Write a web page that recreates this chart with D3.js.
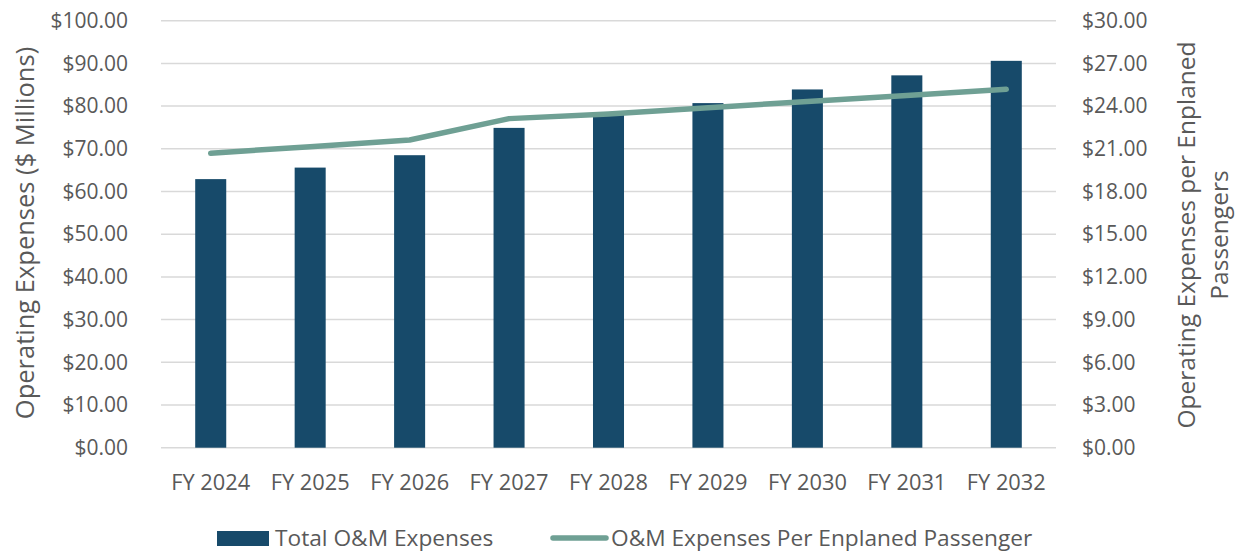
<!DOCTYPE html>
<html>
<head>
<meta charset="utf-8">
<script src="https://cdn.jsdelivr.net/npm/d3@7"></script>
<style>
  html, body { margin: 0; padding: 0; background: #fff; }
  svg { display: block; }
  text { font-family: "Open Sans", "Noto Sans", sans-serif; fill: #595959; }
</style>
</head>
<body>
<svg id="chart" width="1242" height="552"></svg>
<script>
// Fiscal years on the category axis
const years = ["FY 2024", "FY 2025", "FY 2026", "FY 2027", "FY 2028",
               "FY 2029", "FY 2030", "FY 2031", "FY 2032"];
// Total O&M expenses, $ millions (left axis)
const totalOM = [62.9, 65.6, 68.5, 74.9, 78.1, 80.7, 83.9, 87.2, 90.6];
// O&M expenses per enplaned passenger, $ (right axis)
const perPassenger = [20.69, 21.15, 21.62, 23.12, 23.45, 23.88, 24.33, 24.75, 25.18];
// Axis tick values
const leftTicks = [0, 10, 20, 30, 40, 50, 60, 70, 80, 90, 100];
const rightTicks = [0, 3, 6, 9, 12, 15, 18, 21, 24, 27, 30];

const barColor = "#174a6a";
const lineColor = "#6fa094";
const gridColor = "#d9d9d9";

const svg = d3.select("#chart");
const plot = { left: 161, right: 1056, top: 20.7, bottom: 447.7 };

const x = d3.scaleBand()
  .domain(years)
  .range([plot.left, plot.right])
  .paddingInner(0.688)
  .paddingOuter(0.344);

const yL = d3.scaleLinear().domain([0, 100]).range([plot.bottom, plot.top]);
const yR = d3.scaleLinear().domain([0, 30]).range([plot.bottom, plot.top]);

const money = d3.format("$.2f");

// Horizontal gridlines
svg.append("g")
  .selectAll("line")
  .data(leftTicks)
  .join("line")
  .attr("x1", plot.left).attr("x2", plot.right)
  .attr("y1", d => yL(d)).attr("y2", d => yL(d))
  .attr("stroke", gridColor)
  .attr("stroke-width", 1.5);

// Left axis labels
const leftAxis = svg.append("g")
  .attr("transform", `translate(${plot.left - 33},0)`)
  .call(d3.axisLeft(yL).tickValues(leftTicks).tickFormat(money).tickSize(0).tickPadding(0));
leftAxis.select(".domain").remove();
leftAxis.selectAll("text")
  .attr("font-size", 21)
  .attr("font-family", null)
  .attr("fill", "#595959");

// Right axis labels
const rightAxis = svg.append("g")
  .attr("transform", `translate(${plot.right + 26},0)`)
  .call(d3.axisRight(yR).tickValues(rightTicks).tickFormat(money).tickSize(0).tickPadding(0));
rightAxis.select(".domain").remove();
rightAxis.selectAll("text")
  .attr("font-size", 21)
  .attr("font-family", null)
  .attr("fill", "#595959");

// Category labels
const bottomAxis = svg.append("g")
  .attr("transform", `translate(0,${plot.bottom})`)
  .call(d3.axisBottom(x).tickSize(0).tickPadding(27));
bottomAxis.select(".domain").remove();
bottomAxis.selectAll("text")
  .attr("font-size", 21.8)
  .attr("font-family", null)
  .attr("fill", "#595959");

// Bars
svg.append("g")
  .selectAll("rect")
  .data(years)
  .join("rect")
  .attr("x", d => x(d))
  .attr("width", x.bandwidth())
  .attr("y", (d, i) => yL(totalOM[i]))
  .attr("height", (d, i) => plot.bottom - yL(totalOM[i]))
  .attr("fill", barColor);

// Per-passenger line
const line = d3.line()
  .x((d, i) => x(years[i]) + x.bandwidth() / 2)
  .y(d => yR(d));

svg.append("path")
  .datum(perPassenger)
  .attr("d", line)
  .attr("fill", "none")
  .attr("stroke", lineColor)
  .attr("stroke-width", 5.5)
  .attr("stroke-linecap", "round")
  .attr("stroke-linejoin", "round");

// Axis titles
svg.append("text")
  .attr("transform", "translate(34,233) rotate(-90)")
  .attr("text-anchor", "middle")
  .attr("font-size", 25.5)
  .text("Operating Expenses ($ Millions)");

svg.append("text")
  .attr("transform", "translate(1195,235) rotate(-90)")
  .attr("text-anchor", "middle")
  .attr("font-size", 24.5)
  .text("Operating Expenses per Enplaned");

svg.append("text")
  .attr("transform", "translate(1228,235) rotate(-90)")
  .attr("text-anchor", "middle")
  .attr("font-size", 24.5)
  .text("Passengers");

// Legend
const legend = svg.append("g");
legend.append("rect")
  .attr("x", 217).attr("y", 531)
  .attr("width", 52).attr("height", 15)
  .attr("fill", barColor);
legend.append("text")
  .attr("x", 275).attr("y", 538)
  .attr("dy", "0.35em")
  .attr("font-size", 22.7)
  .text("Total O&M Expenses");
legend.append("line")
  .attr("x1", 553).attr("x2", 606)
  .attr("y1", 538).attr("y2", 538)
  .attr("stroke", lineColor)
  .attr("stroke-width", 5.5)
  .attr("stroke-linecap", "round");
legend.append("text")
  .attr("x", 611).attr("y", 538)
  .attr("dy", "0.35em")
  .attr("font-size", 22.7)
  .text("O&M Expenses Per Enplaned Passenger");
</script>
</body>
</html>
